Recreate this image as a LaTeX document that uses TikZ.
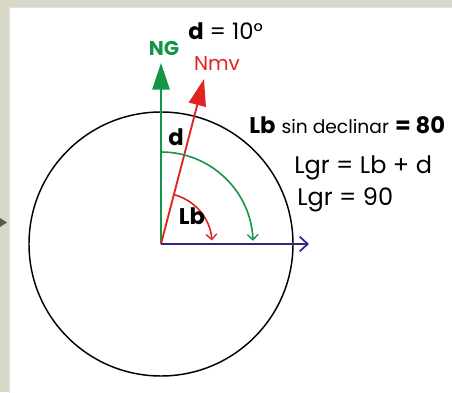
\documentclass[tikz,border=0pt]{standalone}
\usepackage{fontspec}
\setmainfont{Poppins}
\usepackage{tikz}
\usetikzlibrary{arrows.meta, calc}
\definecolor{framebg}{RGB}{217, 215, 199}
\definecolor{ngreen}{RGB}{20, 150, 72}
\definecolor{nred}{RGB}{224, 36, 36}
\definecolor{nnavy}{RGB}{44, 40, 136}

\begin{document}
\begin{tikzpicture}[
        x=0.75pt, y=0.75pt,
        lbl/.style={inner sep=0pt, font=\fontsize{17}{19}\selectfont},
        north/.style={line width=1.6pt, -{Triangle[length=20pt, width=13pt]}},
        vec/.style={line width=1.5pt, -{Straight Barb[length=6pt, width=11pt, line width=1.3pt]}},
        turn/.style={line width=1.2pt, -{Straight Barb[length=4pt, width=8pt, line width=1pt]}},
    ]
        % --- frame ---
        \useasboundingbox (0,0) rectangle (452,392);
        \fill[framebg] (0,0) rectangle (452,392);
        \filldraw[fill=white, draw=black!12] (9,-1) rectangle (453,385);
        \fill[black!65] (0,174) -- (7,169.5) -- (0,165) -- cycle;

        % --- circle and directions ---
        \coordinate (O) at (161,148);
        \coordinate (ngtip) at (161,329);
        \coordinate (nmvtip) at (204,313);
        \coordinate (este) at (309,148);
        \draw[line width=1.1pt] (O) circle[radius=132];

        \draw[north, ngreen] (O) -- (ngtip);
        \draw[north, nred, line width=1.4pt] (O) -- (nmvtip);
        \draw[vec, nnavy] (O) -- (este);

        % --- angles ---
        \draw[turn, ngreen] ($(O)+(90:92)$) arc[start angle=90, end angle=2, radius=92];
        \draw[turn, nred] ($(O)+(75:51)$) arc[start angle=75, end angle=4, radius=51];

        % --- labels ---
        \node[lbl, font=\fontsize{15}{17}\selectfont\bfseries, text=ngreen] (ng) at (164,344) {NG};
        \node[lbl, font=\fontsize{15}{17}\selectfont, text=nred] (nmv) at (217,328) {Nmv};
        \node[lbl, anchor=west] (decl) at (188,361) {\textbf{d} = 10°};
        \node[lbl, font=\fontsize{17}{19}\selectfont\bfseries] (d) at (176,255) {d};
        \node[lbl, font=\fontsize{17}{19}\selectfont\bfseries] (lb) at (192,176) {Lb};
        \node[lbl, anchor=west] (lbsin) at (249,267) {\textbf{Lb} {\fontsize{14}{16}\selectfont sin declinar} \textbf{= 80}};
        \node[lbl, anchor=west, font=\fontsize{18}{20}\selectfont] (lgr) at (294,224) {Lgr = Lb + d};
        \node[lbl, anchor=west, font=\fontsize{18}{20}\selectfont] (lgrval) at (297,192) {Lgr = 90};
    \end{tikzpicture}
\end{document}
